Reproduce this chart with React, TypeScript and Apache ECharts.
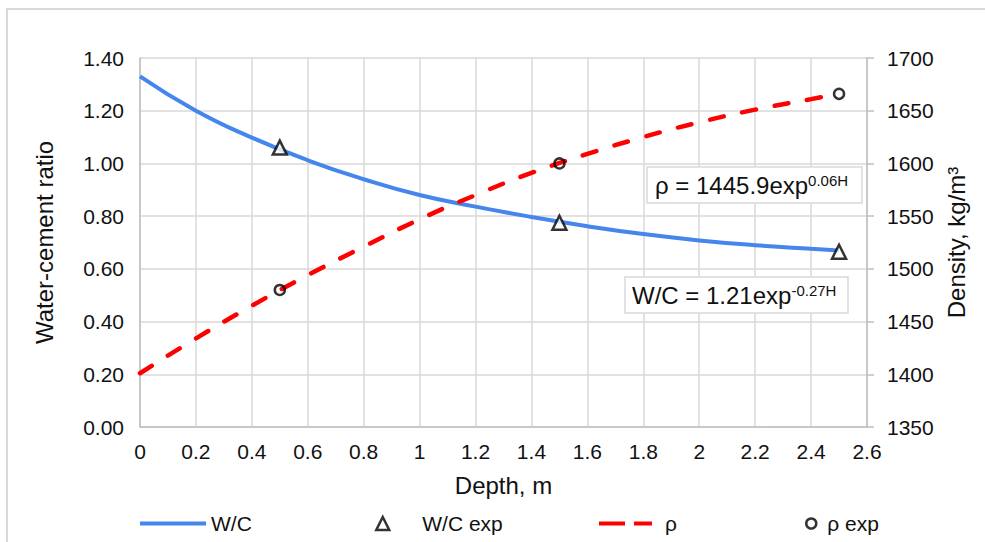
import React, { useEffect, useRef } from "react";
import * as echarts from "echarts";

const depth = [0, 0.2, 0.4, 0.6, 0.8, 1.0, 1.2, 1.4, 1.6, 1.8, 2.0, 2.2, 2.4, 2.5];
const wcFit = [1.33, 1.2, 1.098, 1.012, 0.94, 0.88, 0.836, 0.797, 0.762, 0.732, 0.708, 0.69, 0.676, 0.67];
const rhoFit = [1401, 1434, 1465, 1494, 1521, 1547, 1570, 1591, 1609, 1625, 1639, 1651, 1661, 1666];
const expDepth = [0.5, 1.5, 2.5];
const wcExp = [1.06, 0.775, 0.665];
const rhoExp = [1480, 1600, 1666];

const FONT = '"Liberation Sans", Arial, sans-serif';
const TXT = "#111";

export default function App() {
  const ref = useRef<HTMLDivElement>(null);
  useEffect(() => {
    if (!ref.current) return;
    const chart = echarts.init(ref.current, null, { renderer: "svg" });
    const legendText = { color: TXT, fontSize: 21, fontFamily: FONT };
    chart.setOption({
      animation: false,
      backgroundColor: "#fff",
      textStyle: { fontFamily: FONT },
      grid: { left: 140, right: 118, top: 58, bottom: 115 },
      xAxis: {
        type: "value",
        min: 0,
        max: 2.6,
        interval: 0.2,
        name: "Depth, m",
        nameLocation: "middle",
        nameGap: 46,
        nameTextStyle: { color: TXT, fontSize: 24, fontFamily: FONT },
        axisLine: { show: true, lineStyle: { color: "#bfbfbf", width: 1.5 } },
        axisTick: { show: false },
        axisLabel: { color: TXT, fontSize: 21, margin: 14, fontFamily: FONT },
        splitLine: { show: true, lineStyle: { color: "#d9d9d9", width: 1.5 } },
      },
      yAxis: [
        {
          type: "value",
          min: 0,
          max: 1.4,
          interval: 0.2,
          name: "Water-cement ratio",
          nameLocation: "middle",
          nameGap: 84,
          nameRotate: 90,
          nameTextStyle: { color: TXT, fontSize: 24, fontFamily: FONT },
          axisLine: { show: true, lineStyle: { color: "#bfbfbf", width: 1.5 } },
          axisTick: { show: false },
          axisLabel: {
            color: TXT,
            fontSize: 21,
            margin: 16,
            fontFamily: FONT,
            formatter: (v: number) => v.toFixed(2),
          },
          splitLine: { show: true, lineStyle: { color: "#d9d9d9", width: 1.5 } },
        },
        {
          type: "value",
          min: 1350,
          max: 1700,
          interval: 50,
          position: "right",
          name: "Density, kg/m³",
          nameLocation: "middle",
          nameGap: 77,
          nameRotate: 90,
          nameTextStyle: { color: TXT, fontSize: 24, fontFamily: FONT },
          axisLine: { show: true, lineStyle: { color: "#bfbfbf", width: 1.5 } },
          axisTick: { show: true, length: 7, lineStyle: { color: "#bfbfbf", width: 1.5 } },
          axisLabel: {
            color: TXT,
            fontSize: 21,
            margin: 20,
            fontFamily: FONT,
            formatter: (v: number) => String(v),
          },
          splitLine: { show: false },
        },
      ],
      legend: [
        {
          data: [{ name: "W/C", icon: "rect" }],
          left: 135,
          top: 508,
          itemWidth: 66,
          itemHeight: 4,
          textStyle: legendText,
        },
        {
          data: ["W/C exp"],
          left: 370,
          top: 508,
          itemWidth: 13,
          itemHeight: 13,
          itemStyle: { color: "#fff", borderColor: "#000", borderWidth: 2.5 },
          textStyle: { ...legendText, padding: [0, 0, 0, 28] },
        },
        {
          data: [{ name: "ρ", icon: "path://M0,0h26v4h-26z M35,0h18v4h-18z" }],
          left: 594,
          top: 508,
          itemWidth: 53,
          itemHeight: 4,
          textStyle: { ...legendText, padding: [0, 0, 0, 8] },
        },
        {
          data: ["ρ exp"],
          left: 800,
          top: 508,
          itemWidth: 10,
          itemHeight: 10,
          itemStyle: { color: "#fff", borderColor: "#000", borderWidth: 2.5 },
          textStyle: { ...legendText, padding: [0, 0, 0, 6] },
        },
      ],
      graphic: [
        {
          type: "rect",
          shape: { x: 7, y: 9, width: 1000, height: 560 },
          style: { fill: "none", stroke: "#d9d9d9", lineWidth: 2 },
          silent: true,
        },
        {
          type: "rect",
          z: 100,
          shape: { x: 647, y: 167, width: 215, height: 36 },
          style: { fill: "#fff", stroke: "#d9d9d9", lineWidth: 1.5 },
        },
        {
          type: "text",
          z: 101,
          x: 655,
          y: 185,
          style: {
            text: "{m|ρ = 1445.9exp}{s|0.06H}",
            verticalAlign: "middle",
            rich: {
              m: { fontSize: 24, fontFamily: FONT, fill: TXT },
              s: { fontSize: 15, fontFamily: FONT, fill: TXT, verticalAlign: "top" },
            },
          },
        },
        {
          type: "rect",
          z: 100,
          shape: { x: 625, y: 277, width: 223, height: 36 },
          style: { fill: "#fff", stroke: "#d9d9d9", lineWidth: 1.5 },
        },
        {
          type: "text",
          z: 101,
          x: 632,
          y: 295,
          style: {
            text: "{m|W/C = 1.21exp}{s|-0.27H}",
            verticalAlign: "middle",
            rich: {
              m: { fontSize: 24, fontFamily: FONT, fill: TXT },
              s: { fontSize: 15, fontFamily: FONT, fill: TXT, verticalAlign: "top" },
            },
          },
        },
      ],
      series: [
        {
          name: "W/C",
          type: "line",
          yAxisIndex: 0,
          smooth: true,
          symbol: "none",
          data: depth.map((d, i) => [d, wcFit[i]]),
          lineStyle: { color: "#4486ec", width: 4 },
          itemStyle: { color: "#4486ec" },
          z: 2,
        },
        {
          name: "W/C exp",
          type: "scatter",
          yAxisIndex: 0,
          symbol: "triangle",
          symbolSize: 14,
          data: expDepth.map((d, i) => [d, wcExp[i]]),
          itemStyle: { color: "#ffffff", borderColor: "#000", borderWidth: 2.5 },
          z: 5,
        },
        {
          name: "ρ",
          type: "line",
          yAxisIndex: 1,
          smooth: true,
          symbol: "none",
          data: depth.map((d, i) => [d, rhoFit[i]]),
          lineStyle: { color: "#ff0000", width: 4.5, type: [14, 19], cap: "round" },
          itemStyle: { color: "#ff0000" },
          z: 3,
        },
        {
          name: "ρ exp",
          type: "scatter",
          yAxisIndex: 1,
          symbol: "circle",
          symbolSize: 10,
          data: expDepth.map((d, i) => [d, rhoExp[i]]),
          itemStyle: { color: "transparent", borderColor: "#000", borderWidth: 2.5 },
          z: 6,
        },
      ],
    });
    return () => chart.dispose();
  }, []);
  return (
    <div
      ref={ref}
      style={{ position: "absolute", left: 0, top: 0, width: 985, height: 542 }}
    />
  );
}
